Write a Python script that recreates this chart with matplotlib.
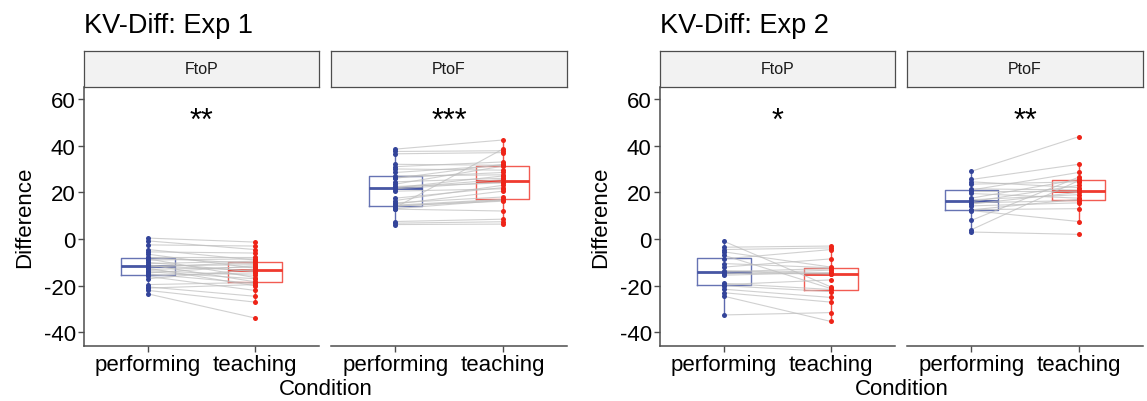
import matplotlib.pyplot as plt

plt.rcParams["font.family"] = ["Liberation Sans", "DejaVu Sans"]

# x categories and facet labels
CONDITIONS = ["performing", "teaching"]
ORDERS = ["FtoP", "PtoF"]
TITLES = ["KV-Diff: Exp 1", "KV-Diff: Exp 2"]
STARS = [["**", "***"], ["*", "**"]]
Y_TICKS = [-40, -20, 0, 20, 40, 60]

# one entry per subject, performing and teaching in the same order (paired)
exp1_ftop_performing = [0.4, -0.8, -2.5, -4.5, -5.5, -6.5, -7.5, -8.0, -8.5, -9.0,
                        -10.0, -10.5, -11.0, -11.5, -11.5, -12.0, -12.5, -13.0, -13.5, -14.0,
                        -14.5, -15.0, -15.5, -16.0, -17.0, -19.5, -20.5, -21.0, -22.0, -23.5]
exp1_ftop_teaching = [-1.3, -4.5, -3.0, -9.0, -6.0, -12.5, -7.5, -10.5, -16.5, -8.5,
                      -14.0, -9.5, -18.3, -11.0, -13.5, -10.0, -20.0, -12.0, -15.5, -17.0,
                      -11.5, -19.0, -14.5, -22.0, -13.0, -18.6, -24.5, -19.5, -27.0, -33.8]

exp1_ptof_performing = [38.5, 37.5, 36.5, 32.0, 31.0, 30.0, 28.5, 27.0, 26.3, 26.0,
                        24.5, 23.5, 22.5, 22.0, 21.9, 21.5, 20.5, 17.5, 16.5, 15.5,
                        15.0, 14.5, 14.2, 14.0, 13.5, 13.0, 12.8, 7.5, 6.8, 6.2]
exp1_ptof_teaching = [42.4, 37.8, 37.0, 31.6, 33.0, 29.5, 31.5, 27.5, 28.5, 32.0,
                      26.0, 31.2, 24.0, 27.0, 25.5, 24.5, 21.5, 22.0, 23.0, 18.0,
                      20.5, 17.0, 16.2, 16.8, 38.5, 16.6, 12.0, 8.5, 7.4, 6.4]

exp2_ftop_performing = [-1.0, -3.5, -4.5, -5.5, -7.0, -8.5, -10.5, -12.0, -13.5, -14.0,
                        -14.5, -15.0, -15.5, -19.0, -19.5, -20.0, -21.5, -23.0, -24.5, -32.5]
exp2_ftop_teaching = [-20.5, -3.0, -3.8, -12.0, -21.2, -4.5, -12.3, -8.5, -14.8, -12.6,
                      -15.0, -13.3, -14.3, -21.6, -17.5, -22.5, -25.0, -27.0, -35.3, -31.5]

exp2_ptof_performing = [29.0, 25.5, 24.5, 23.5, 21.5, 21.0, 20.5, 19.5, 17.5, 16.8,
                        16.0, 15.5, 15.0, 14.2, 12.6, 12.5, 12.2, 8.0, 4.0, 3.0]
exp2_ptof_teaching = [43.8, 32.0, 22.0, 24.5, 21.0, 28.5, 20.5, 17.5, 25.5, 19.0,
                      23.0, 16.5, 20.0, 15.5, 13.0, 17.0, 7.5, 26.5, 25.0, 2.0]

PANELS = [
    [(exp1_ftop_performing, exp1_ftop_teaching), (exp1_ptof_performing, exp1_ptof_teaching)],
    [(exp2_ftop_performing, exp2_ftop_teaching), (exp2_ptof_performing, exp2_ptof_teaching)],
]

COLORS = ["#33449A", "#EE2418"]
AXIS_COLOR = "#4D4D4D"
LABEL_SIZE = 16
W, H = 1147, 402


def px_box(x0, y0, x1, y1):
    """pixel box (top-left origin) -> figure fraction rect"""
    return [x0 / W, 1 - y1 / H, (x1 - x0) / W, (y1 - y0) / H]


def draw_panel(ax, perf, teach, stars, show_y):
    data = [perf, teach]
    bp = ax.boxplot(data, positions=[1, 2], widths=0.5, showfliers=False,
                    whis=1.5, manage_ticks=False, showcaps=False)
    for i, c in enumerate(COLORS):
        bp["boxes"][i].set(color=c, linewidth=1.0, alpha=0.75)
        bp["medians"][i].set(color=c, linewidth=2.0, alpha=0.9)
        for w in bp["whiskers"][2 * i:2 * i + 2]:
            w.set(color=c, linewidth=1.0, alpha=0.8)

    for p, t in zip(perf, teach):
        ax.plot([1, 2], [p, t], color="#BDBDBD", linewidth=0.8, alpha=0.7, zorder=3)
    for i, (vals, c) in enumerate(zip(data, COLORS)):
        ax.plot([i + 1] * len(vals), vals, "o", color=c, markersize=3.6,
                markeredgewidth=0, zorder=4)

    ax.text(1.5, 50.5, stars, ha="center", va="center", fontsize=22)

    ax.set_xlim(0.4, 2.6)
    ax.set_ylim(-45.8, 65.1)
    ax.set_xticks([1, 2])
    ax.set_xticklabels(CONDITIONS, fontsize=LABEL_SIZE)
    for s in ["top", "right"]:
        ax.spines[s].set_visible(False)
    ax.spines["bottom"].set(color=AXIS_COLOR, linewidth=1.1)
    ax.tick_params(axis="both", color=AXIS_COLOR, length=4, width=1.0, pad=2,
                   labelcolor="black")
    if show_y:
        ax.spines["left"].set(color=AXIS_COLOR, linewidth=1.1)
        ax.set_yticks(Y_TICKS)
        ax.set_yticklabels([str(v) for v in Y_TICKS], fontsize=LABEL_SIZE)
    else:
        ax.spines["left"].set_visible(False)
        ax.set_yticks([])


fig = plt.figure(figsize=(W / 100, H / 100), dpi=100)

panel_x = [[(84, 319), (331, 567)], [(660, 895), (907, 1143)]]
for e in range(2):
    for k in range(2):
        x0, x1 = panel_x[e][k]
        ax = fig.add_axes(px_box(x0, 88, x1, 347))
        perf, teach = PANELS[e][k]
        draw_panel(ax, perf, teach, STARS[e][k], show_y=(k == 0))
        if k == 0:
            ax.set_ylabel("Difference", fontsize=LABEL_SIZE, labelpad=6)

        strip = fig.add_axes(px_box(x0, 52, x1, 88))
        strip.set_facecolor("#F2F2F2")
        strip.set_xticks([])
        strip.set_yticks([])
        for s in strip.spines.values():
            s.set(color="#4D4D4D", linewidth=0.9)
        strip.text(0.5, 0.5, ORDERS[k], ha="center", va="center", fontsize=11.5,
                   color="#1A1A1A", transform=strip.transAxes)

    left = panel_x[e][0][0]
    right = panel_x[e][1][1]
    fig.text(left / W, 1 - 26 / H, TITLES[e], ha="left", va="center", fontsize=19.5)
    fig.text((left + right) / 2 / W, 1 - 390 / H, "Condition", ha="center",
             va="center", fontsize=LABEL_SIZE)

fig.savefig("out.png", dpi=100)
